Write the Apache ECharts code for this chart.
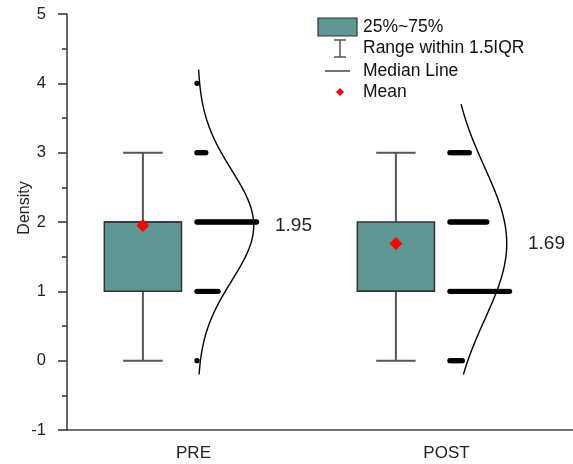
<!DOCTYPE html>
<html>
<head>
<meta charset="utf-8">
<script src="https://cdn.jsdelivr.net/npm/echarts@6/dist/echarts.min.js"></script>
<style>
  html, body { margin: 0; padding: 0; background: #fff; }
  #chart { width: 573px; height: 464px; }
</style>
</head>
<body>
<div id="chart"></div>
<script>
// Groups and raw observation counts at each score level
const groups = ['PRE', 'POST'];
const levels = [0, 1, 2, 3, 4];
const preCounts = [1, 13, 35, 6, 1];
const postCounts = [8, 35, 22, 12, 0];

// Box statistics: [whisker low, Q1, median, Q3, whisker high]
const preBox = [0, 1, 2, 2, 3];
const postBox = [0, 1, 1, 2, 3];

// Group means and their printed labels
const means = [1.95, 1.69];
const meanLabels = ['1.95', '1.69'];

// Normal curves: [mean, sd, from, to]
const preCurve = [1.95, 0.8, -0.2, 4.2];
const postCurve = [1.69, 1.1, -0.2, 3.7];

const yTicks = [-1, 0, 1, 2, 3, 4, 5];

const FONT = '"Liberation Sans", Arial, sans-serif';
const BOX_FILL = '#5E9794';
const INK = '#333';

// Layout within each category band (fractions of the band width)
const BOX_SHIFT = -0.2;
const BOX_W = 0.305;
const CAP_W = 0.156;
const CURVE_BASE = 0.016;
const CURVE_AMP = 0.222;
const LABEL_SHIFT = 0.322;
const DOT_R = 2.7;
const DOT_PITCH = 1.75;

const chart = echarts.init(document.getElementById('chart'), null, { renderer: 'canvas' });

function boxItem(params, api) {
  const i = api.value(0);
  const band = api.size([1, 0])[0];
  const cx = api.coord([i, 0])[0] + BOX_SHIFT * band;
  const y = k => api.coord([i, api.value(k)])[1];
  const yLo = y(1), yQ1 = y(2), yMed = y(3), yQ3 = y(4), yHi = y(5);
  const hw = BOX_W * band / 2;
  const cw = CAP_W * band / 2;
  const ws = { stroke: '#555', lineWidth: 2 };
  return {
    type: 'group',
    children: [
      { type: 'line', shape: { x1: cx, y1: yHi, x2: cx, y2: yQ3 }, style: ws },
      { type: 'line', shape: { x1: cx, y1: yQ1, x2: cx, y2: yLo }, style: ws },
      { type: 'line', shape: { x1: cx - cw, y1: yHi, x2: cx + cw, y2: yHi }, style: ws },
      { type: 'line', shape: { x1: cx - cw, y1: yLo, x2: cx + cw, y2: yLo }, style: ws },
      { type: 'rect', shape: { x: cx - hw, y: yQ3, width: 2 * hw, height: yQ1 - yQ3 },
        style: { fill: BOX_FILL, stroke: INK, lineWidth: 1.5 } },
      { type: 'line', shape: { x1: cx - hw, y1: yMed, x2: cx + hw, y2: yMed },
        style: { stroke: INK, lineWidth: 1.5 } }
    ]
  };
}

function meanItem(params, api) {
  const i = api.value(0);
  const band = api.size([1, 0])[0];
  const p = api.coord([i, api.value(1)]);
  const cx = p[0] + BOX_SHIFT * band;
  const s = 6.5;
  return {
    type: 'group',
    children: [
      { type: 'polygon',
        shape: { points: [[cx, p[1] - s], [cx + s, p[1]], [cx, p[1] + s], [cx - s, p[1]]] },
        style: { fill: '#FF0000' } },
      { type: 'text',
        x: p[0] + LABEL_SHIFT * band, y: p[1],
        style: { text: meanLabels[i], fill: '#222', font: '19px ' + FONT,
                 textAlign: 'left', textVerticalAlign: 'middle' } }
    ]
  };
}

function dotsItem(params, api) {
  const i = api.value(0);
  const n = api.value(2);
  const p = api.coord([i, api.value(1)]);
  const children = [];
  for (let k = 0; k < n; k++) {
    children.push({ type: 'circle',
      shape: { cx: p[0] + 3.5 + k * DOT_PITCH, cy: p[1], r: DOT_R },
      style: { fill: '#000' } });
  }
  return { type: 'group', children };
}

function curveItem(params, api) {
  const i = api.value(0);
  const mu = api.value(1), sd = api.value(2), from = api.value(3), to = api.value(4);
  const band = api.size([1, 0])[0];
  const x0 = api.coord([i, 0])[0] + CURVE_BASE * band;
  const pts = [];
  const steps = 160;
  for (let k = 0; k <= steps; k++) {
    const v = from + (to - from) * k / steps;
    const d = Math.exp(-((v - mu) * (v - mu)) / (2 * sd * sd));
    pts.push([x0 + CURVE_AMP * band * d, api.coord([i, v])[1]]);
  }
  return { type: 'polyline', shape: { points: pts },
           style: { stroke: '#000', lineWidth: 1.4, fill: null } };
}

const dotData = [];
[preCounts, postCounts].forEach((counts, gi) => {
  levels.forEach((lv, li) => { if (counts[li] > 0) dotData.push([gi, lv, counts[li]]); });
});

// Legend drawn as graphic elements
const LX = 318, LT = 363;
const LF = '17.5px ' + FONT;
const legend = [
  { type: 'rect', shape: { x: LX, y: 18, width: 39, height: 18 },
    style: { fill: BOX_FILL, stroke: INK, lineWidth: 1.2 } },
  { type: 'text', x: LT, y: 27, style: { text: '25%~75%', font: LF, fill: '#111', textVerticalAlign: 'middle' } },
  { type: 'line', shape: { x1: 340, y1: 40, x2: 340, y2: 57 }, style: { stroke: '#555', lineWidth: 1.5 } },
  { type: 'line', shape: { x1: 334, y1: 40, x2: 346, y2: 40 }, style: { stroke: '#555', lineWidth: 1.5 } },
  { type: 'line', shape: { x1: 334, y1: 57, x2: 346, y2: 57 }, style: { stroke: '#555', lineWidth: 1.5 } },
  { type: 'text', x: LT, y: 48.5, style: { text: 'Range within 1.5IQR', font: LF, fill: '#111', textVerticalAlign: 'middle' } },
  { type: 'line', shape: { x1: 325, y1: 71, x2: 350, y2: 71 }, style: { stroke: '#444', lineWidth: 1.5 } },
  { type: 'text', x: LT, y: 71, style: { text: 'Median Line', font: LF, fill: '#111', textVerticalAlign: 'middle' } },
  { type: 'polygon', shape: { points: [[340, 88], [344, 92], [340, 96], [336, 92]] }, style: { fill: '#FF0000' } },
  { type: 'text', x: LT, y: 92.5, style: { text: 'Mean', font: LF, fill: '#111', textVerticalAlign: 'middle' } },
  { type: 'text', x: 25, y: 208, rotation: Math.PI / 2,
    style: { text: 'Density', font: '16px ' + FONT, fill: '#222', textAlign: 'center', textVerticalAlign: 'middle' } }
];

chart.setOption({
  animation: false,
  backgroundColor: '#fff',
  grid: { left: 67, top: 14, width: 512, bottom: 34, containLabel: false },
  xAxis: {
    type: 'category',
    data: groups,
    boundaryGap: true,
    axisLine: { onZero: false, lineStyle: { color: '#444', width: 1.5 } },
    axisTick: { alignWithLabel: true, length: 8, lineStyle: { color: '#444', width: 1.5 } },
    axisLabel: { color: '#222', fontSize: 17, fontFamily: FONT, margin: 15 },
    splitLine: { show: false }
  },
  yAxis: {
    type: 'value',
    min: yTicks[0],
    max: yTicks[yTicks.length - 1],
    interval: 1,
    axisLine: { show: true, lineStyle: { color: '#333', width: 1.5 } },
    axisTick: { show: true, length: 9, lineStyle: { color: '#333', width: 1.5 } },
    minorTick: { show: true, splitNumber: 2, length: 5, lineStyle: { color: '#333', width: 1.5 } },
    axisLabel: { color: '#222', fontSize: 16.5, fontFamily: FONT, margin: 21 },
    splitLine: { show: false }
  },
  graphic: legend,
  series: [
    { type: 'custom', renderItem: curveItem, data: [[0, ...preCurve], [1, ...postCurve]],
      encode: { x: 0, y: [3, 4] }, silent: true, z: 1 },
    { type: 'custom', renderItem: dotsItem, data: dotData,
      encode: { x: 0, y: 1 }, silent: true, z: 2 },
    { type: 'custom', renderItem: boxItem, data: [[0, ...preBox], [1, ...postBox]],
      encode: { x: 0, y: [1, 2, 3, 4, 5] }, silent: true, z: 3 },
    { type: 'custom', renderItem: meanItem, data: [[0, means[0]], [1, means[1]]],
      encode: { x: 0, y: 1 }, silent: true, z: 4 }
  ]
});
</script>
</body>
</html>
